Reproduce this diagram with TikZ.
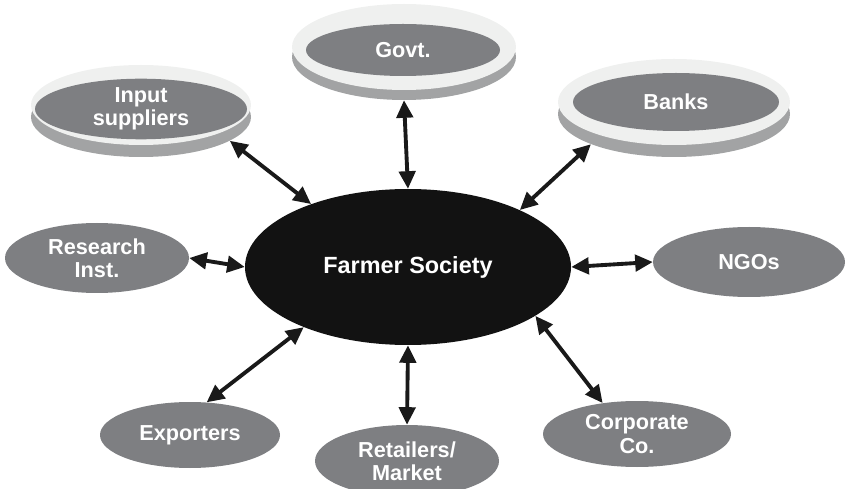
\documentclass[tikz,border=0pt]{standalone}
\usepackage{fontspec}
\setmainfont{Liberation Sans}
\usetikzlibrary{shapes,arrows.meta}
\definecolor{nodegray}{HTML}{7E7F82}
\definecolor{rimlight}{HTML}{EFF0EF}
\definecolor{rimdark}{HTML}{A2A3A4}
\tikzset{link/.style={{Triangle[length=15pt,width=14pt]}-{Triangle[length=15pt,width=14pt]}, line width=3.3pt, draw=black!90}, % double headed connector
dims/.style 2 args={minimum width=#1*0.03cm, minimum height=#2*0.03cm}, % size in pixels of the drawing
member/.style={ellipse, inner sep=0pt, fill=nodegray, text=white, align=center, font=\fontsize{18.5}{20}\bfseries\selectfont}, % every partner around the society
rimtop/.style={ellipse, inner sep=0pt, fill=rimlight}, % light edge of a raised disc
rimshade/.style={ellipse, inner sep=0pt, fill=rimdark}, % side of a raised disc
hub/.style={ellipse, inner sep=0pt, fill=black!93, text=white, font=\fontsize{20}{22}\bfseries\selectfont}, % the society in the middle
}

\begin{document}
\begin{tikzpicture}[x=0.03cm, y=-0.03cm]
\useasboundingbox (0,0) rectangle (846,489);
\node[hub, dims={326}{156}] (farmer) at (408,267) {Farmer Society};
\node[rimshade, dims={224}{86}] (govt) at (404,57) {};
\node[rimtop, dims={224}{86}] (govt rim) at (404,47) {};
\node[member, dims={194}{52}] (govt face) at (403,50) {Govt.};
\node[rimshade, dims={220}{80}] (input) at (141,117) {};
\node[rimtop, dims={220}{80}] (input rim) at (141,105) {};
\node[member, dims={212}{58}] (input face) at (141,109) {Input\\suppliers};
\node[rimshade, dims={232}{86}] (banks) at (674,114) {};
\node[rimtop, dims={232}{86}] (banks rim) at (674,102) {};
\node[member, dims={206}{58}] (banks face) at (676,102) {Banks};
\node[member, dims={184}{70}] (research) at (97,258) {Research\\Inst.};
\node[member, dims={192}{70}] (ngos) at (749,262) {NGOs};
\node[member, dims={180}{66}] (exporters) at (190,435) {Exporters};
\node[member, dims={184}{72}] (retailers) at (407,461) {Retailers/\\Market};
\node[member, dims={188}{66}] (corporate) at (637,434) {Corporate\\Co.};
\draw[link] (farmer.90) -- (govt.270);
\draw[link] (farmer.147) -- (input.-15);
\draw[link] (farmer.27) -- (banks.200);
\draw[link] (farmer.180) -- (research.0);
\draw[link] (farmer.0) -- (ngos.180);
\draw[link] (farmer.210) -- (exporters.63);
\draw[link] (farmer.270) -- (retailers.90);
\draw[link] (farmer.339) -- (corporate.138);
\end{tikzpicture}
\end{document}
